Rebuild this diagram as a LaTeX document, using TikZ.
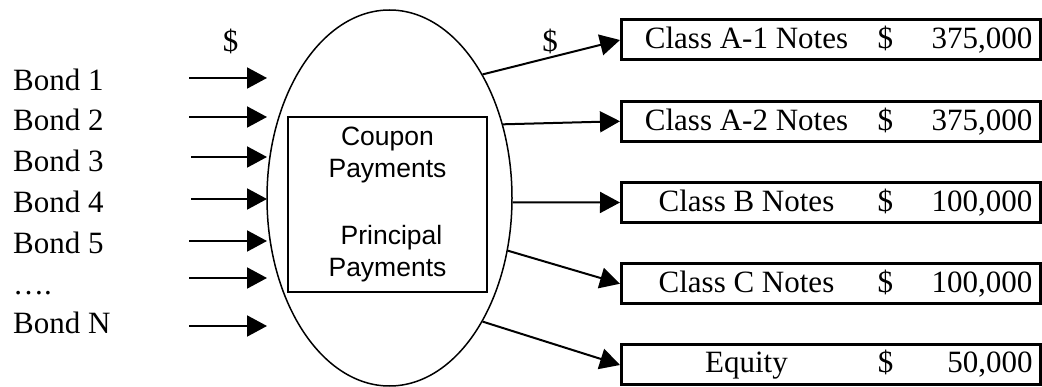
\documentclass[tikz,border=0pt]{standalone}
\usepackage{fontspec}
\setmainfont{Liberation Serif}
\setsansfont{Liberation Sans}
\usetikzlibrary{arrows.meta, positioning, shapes.geometric}
\newcommand{\trancheline}[2]{\makebox[234pt]{#1}\makebox[44pt]{\$}\makebox[125pt][r]{#2}\hspace{16pt}}

\begin{document}
\begin{tikzpicture}[x=1pt, y=-1pt,
      node distance=38.25pt,
      lbl/.style={anchor=base west, inner sep=0, font=\fontsize{31}{37}\selectfont},
      tranche/.style={rectangle, draw, line width=3pt, inner sep=0,
                      minimum width=419pt, minimum height=40pt, font=\fontsize{31}{37}\selectfont},
      arr/.style={-{Triangle[length=20pt, width=21pt]}, line width=2pt}
    ]
      \useasboundingbox (0,0) rectangle (1042,387);
      \node[ellipse, draw, line width=1.5pt, inner sep=0,
            minimum width=245pt, minimum height=376pt] (pool) at (389.5,198) {};
      \node[draw, line width=1.3pt, inner sep=0,
            minimum width=199pt, minimum height=175pt] (paybox) at (387.5,204.5) {};
      \node[align=center, inner sep=0, font=\sffamily\fontsize{26.5}{32}\selectfont]
            (paytext) at (paybox.center) {Coupon\\Payments\\[35pt]\hspace*{8pt}Principal\\Payments};
      \node[lbl] (bond1) at (13,91) {Bond 1};
      \node[lbl] (bond2) at (13,131) {Bond 2};
      \node[lbl] (bond3) at (13,172) {Bond 3};
      \node[lbl] (bond4) at (13,213) {Bond 4};
      \node[lbl] (bond5) at (13,254) {Bond 5};
      \node[lbl] (bonddots) at (13,295) {….};
      \node[lbl] (bondN) at (13,334) {Bond N};
      \node[font=\fontsize{31}{37}\selectfont] (dollarin) at (230.5,41) {\$};
      \node[font=\fontsize{31}{37}\selectfont] (dollarout) at (550,41) {\$};
      \coordinate (t1) at (189,78);  \coordinate (h1) at (267,78);
      \coordinate (t2) at (189,117); \coordinate (h2) at (267,117);
      \coordinate (t3) at (191,157); \coordinate (h3) at (267,157);
      \coordinate (t4) at (191,199); \coordinate (h4) at (267,199);
      \coordinate (t5) at (189,241); \coordinate (h5) at (267,241);
      \coordinate (t6) at (189,278); \coordinate (h6) at (267,278);
      \coordinate (t7) at (189,326); \coordinate (h7) at (267,326);
      \node[tranche, anchor=west] (a1) at (620,40) {\trancheline{Class A-1 Notes}{375,000}};
      \node[tranche, below=of a1] (a2) {\trancheline{Class A-2 Notes}{375,000}};
      \node[tranche, below=of a2] (clb) {\trancheline{Class B Notes}{100,000}};
      \node[tranche, below=of clb] (clc) {\trancheline{Class C Notes}{100,000}};
      \node[tranche, below=of clc] (equity) {\trancheline{Equity}{50,000}};
      \draw[arr] (t1) -- (h1);
      \draw[arr] (t2) -- (h2);
      \draw[arr] (t3) -- (h3);
      \draw[arr] (t4) -- (h4);
      \draw[arr] (t5) -- (h5);
      \draw[arr] (t6) -- (h6);
      \draw[arr] (t7) -- (h7);
      \draw[arr] (pool.53.5) -- (a1.west);
      \draw[arr] (pool.33.7) -- (a2.west);
      \draw[arr] (pool.-2.8) -- (clb.west);
      \draw[arr] (pool.-24.5) -- (clc.west);
      \draw[arr] (pool.-53.9) -- (equity.west);
    \end{tikzpicture}
\end{document}
